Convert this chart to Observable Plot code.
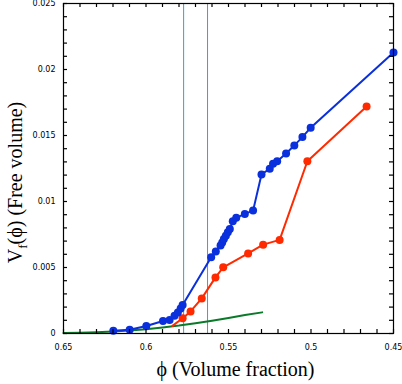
<!DOCTYPE html>
<html>
<head>
<meta charset="utf-8">
<script src="https://cdn.jsdelivr.net/npm/d3@7"></script>
<script src="https://cdn.jsdelivr.net/npm/@observablehq/plot@0.6"></script>
<style>
  html, body { margin: 0; padding: 0; background: #fff; }
</style>
</head>
<body>
<div id="chart"></div>
<script>
// Blue series
const bluePhi = [0.6198, 0.6099, 0.5998, 0.5897, 0.5857, 0.5827, 0.5807, 0.5790, 0.5778, 0.5605, 0.5577, 0.5548, 0.5538, 0.5528, 0.5516, 0.5504, 0.5492, 0.5474, 0.5453, 0.5401, 0.5351, 0.5300, 0.5250, 0.5230, 0.5205, 0.5151, 0.5101, 0.5052, 0.5002, 0.4500];
const blueV = [0.0002, 0.00028, 0.00057, 0.00095, 0.00102, 0.00134, 0.00159, 0.0019, 0.00216, 0.00577, 0.00622, 0.00666, 0.0069, 0.00716, 0.00741, 0.00767, 0.00792, 0.0085, 0.00876, 0.00906, 0.00931, 0.01205, 0.01248, 0.01286, 0.01305, 0.01363, 0.01425, 0.01488, 0.01559, 0.02128];
// Red series
const redPhi = [0.5840, 0.5778, 0.5730, 0.5662, 0.5579, 0.5532, 0.5381, 0.5290, 0.5190, 0.5022, 0.4663];
const redV = [0.00058, 0.00116, 0.00167, 0.00266, 0.00425, 0.00501, 0.00607, 0.00673, 0.00709, 0.01305, 0.0172];
// Green curve
const greenPhi = [0.65, 0.64, 0.63, 0.62, 0.61, 0.60, 0.59, 0.58, 0.57, 0.56, 0.55, 0.54, 0.5296];
const greenV = [0.00003, 0.00006, 0.0001, 0.00015, 0.00022, 0.00032, 0.00045, 0.0006, 0.00078, 0.00097, 0.00118, 0.0014, 0.0016];
// Vertical reference lines
const vLines = [0.5772, 0.5627];
// Tick labels
const xTickValues = [0.65, 0.6, 0.55, 0.5, 0.45];
const xTickLabels = ["0.65", "0.6", "0.55", "0.5", "0.45"];
const yTickValues = [0, 0.005, 0.01, 0.015, 0.02, 0.025];
const yTickLabels = ["0", "0.005", "0.01", "0.015", "0.02", "0.025"];
const xMinor = d3.range(0, 21).map(i => +(0.45 + i * 0.01).toFixed(2));
const yMinor = d3.range(0, 26).map(i => +(i * 0.001).toFixed(3));
const xLabel = "ϕ (Volume fraction)";
const yLabel = "V_f(ϕ) (Free volume)";

const blue = bluePhi.map((p, i) => ({phi: p, v: blueV[i]}));
const red = redPhi.map((p, i) => ({phi: p, v: redV[i]}));
const green = greenPhi.map((p, i) => ({phi: p, v: greenV[i]}));

const W = 402, H = 384;
const mL = 63, mR = 9, mT = 3, mB = 51;
const innerW = W - mL - mR, innerH = H - mT - mB;
const tl = 4;

const chart = Plot.plot({
  width: W,
  height: H,
  marginLeft: mL,
  marginRight: mR,
  marginTop: mT,
  marginBottom: mB,
  style: {fontFamily: "DejaVu Sans, sans-serif", fontSize: "8px", background: "#fff", color: "#000"},
  x: {domain: [0.65, 0.45]},
  y: {domain: [0, 0.025]},
  marks: [
    Plot.ruleX(vLines, {x: d => d, stroke: "#2aa6d8", strokeWidth: 1}),
    Plot.line(green, {x: "phi", y: "v", stroke: "#0a7a2a", strokeWidth: 2}),
    Plot.line(red, {x: "phi", y: "v", stroke: "#ff2a00", strokeWidth: 2}),
    Plot.dot(red.slice(1), {x: "phi", y: "v", r: 4, fill: "#ff2a00", stroke: "none"}),
    Plot.line(blue, {x: "phi", y: "v", stroke: "#0a2fdc", strokeWidth: 2}),
    Plot.dot(blue, {x: "phi", y: "v", r: 4, fill: "#0a2fdc", stroke: "none"}),
    Plot.frame({stroke: "#000", strokeWidth: 1.2}),
    // inward ticks
    Plot.tickX(xMinor, {x: d => d, insetTop: innerH - tl, stroke: "#000", strokeWidth: 1.2}),
    Plot.tickX(xMinor, {x: d => d, insetBottom: innerH - tl, stroke: "#000", strokeWidth: 1.2}),
    Plot.tickY(yMinor, {y: d => d, insetRight: innerW - tl, stroke: "#000", strokeWidth: 1.2}),
    Plot.tickY(yMinor, {y: d => d, insetLeft: innerW - tl, stroke: "#000", strokeWidth: 1.2}),
    Plot.axisX({ticks: xTickValues, tickSize: 0, tickPadding: 11, tickFormat: d => xTickLabels[xTickValues.indexOf(d)], label: null}),
    Plot.axisY({ticks: yTickValues, tickSize: 0, tickPadding: 8, tickFormat: d => yTickLabels[yTickValues.indexOf(d)], label: null}),
    Plot.text([xLabel], {text: d => d, frameAnchor: "bottom", dy: 28, dx: 7, fontSize: 20, fontFamily: "Liberation Serif, Times New Roman, serif", fill: "#000", lineAnchor: "top"}),
    Plot.text([yLabel], {text: d => d, frameAnchor: "left", textAnchor: "middle", dx: -48, dy: 14, rotate: -90, fontSize: 20, fontFamily: "Liberation Serif, Times New Roman, serif", fill: "#000"})
  ]
});

document.getElementById("chart").appendChild(chart);

// Render subscript f in the y label
d3.select(chart).selectAll("text").each(function() {
  const t = d3.select(this);
  if (t.text() === yLabel) {
    t.text(null);
    t.append("tspan").text("V");
    t.append("tspan").attr("font-size", 13).attr("dy", 5).text("f");
    t.append("tspan").attr("dy", -5).text("(ϕ) (Free volume)");
  }
});
</script>
</body>
</html>
